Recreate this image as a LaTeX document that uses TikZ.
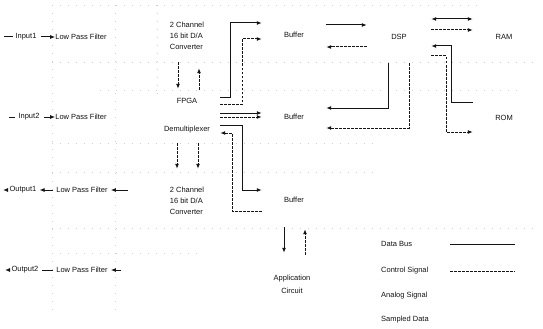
\documentclass[tikz,border=0pt]{standalone}
\usepackage{fontspec}
\setmainfont{Liberation Sans}
\usetikzlibrary{
    arrows.meta,
    calc
}
\definecolor{ScanInk}{RGB}{20,20,20}
\definecolor{ScanGhost}{RGB}{205,205,205}

\begin{document}
\begin{tikzpicture}[
    x=1pt, y=-1pt,
    >={Latex[length=5pt,width=4pt]},
    every node/.style={font=\fontsize{7.5}{9}\selectfont, text=ScanInk, inner sep=0pt},
    block/.style={minimum width=64pt, minimum height=24pt},
    chip/.style={minimum width=66pt, minimum height=16pt},
    conv/.style={align=left, font=\fontsize{7.5}{11}\selectfont, minimum height=52pt},
    bus/.style={ScanInk, line width=1pt},
    ctrl/.style={ScanInk, line width=1pt, dash pattern=on 2.5pt off 1.5pt},
    sig/.style={ScanInk, line width=1pt},
    ghost/.style={ScanGhost, line width=0.4pt, dash pattern=on 1pt off 7pt}
]

% Frame
\useasboundingbox (0,0) rectangle (543,329);
\fill[white] (0,0) rectangle (543,329);

% Faint layout lines
\foreach \y/\xa/\xb in {5/52/480, 62/52/540, 90/100/520, 143/52/380,
                        172/52/380, 228/52/540, 253/52/200}
    \draw[ghost] (\xa,\y) -- (\xb,\y);
\foreach \x/\ya/\yb in {52/5/310, 115/5/310, 157/5/95}
    \draw[ghost] (\x,\ya) -- (\x,\yb);

% Analog side
\node (in1)  at (26,37)  {Input1};
\node (lpf1) at (81,37)  {Low Pass Filter};
\node (in2)  at (29,117) {Input2};
\node (lpf2) at (81,117) {Low Pass Filter};
\node (out1) at (23,190) {Output1};
\node (lpf3) at (82,190) {Low Pass Filter};
\node (out2) at (25,270) {Output2};
\node (lpf4) at (82,270) {Low Pass Filter};

\coordinate (src1) at (4,37);
\coordinate (src2) at (9,117);
\coordinate (dst1) at (3,190);
\coordinate (dst2) at (5,270);
\coordinate (dac1) at (128,190);
\coordinate (dac2) at (121,270);
\path (in1.east) ++(4,0) coordinate (in1o);
\path (in2.east) ++(4,0) coordinate (in2o);
\path (out1.east) ++(3,0) coordinate (out1i);
\path (out2.east) ++(3,0) coordinate (out2i);

\draw[sig, shorten >=2pt] (src1) -- (in1.west);
\draw[sig, ->] (in1o) -- (lpf1.west);
\draw[sig, shorten >=3pt] (src2) -- (in2.west);
\draw[sig, ->] (in2o) -- (lpf2.west);
\draw[sig, ->, shorten <=2pt] (out1.west) -- (dst1);
\draw[sig, ->, shorten <=3pt] (lpf3.west) -- (out1i);
\draw[sig, ->, shorten >=3pt] (dac1) -- (lpf3.east);
\draw[sig, ->, shorten <=2pt] (out2.west) -- (dst2);
\draw[sig, shorten <=3pt] (lpf4.west) -- (out2i);
\draw[sig, ->, shorten >=3pt] (dac2) -- (lpf4.east);

% Converters and FPGA
\node[conv] (conv1) at (187,36)  {2 Channel\\16 bit D/A\\Converter};
\node[chip] (fpga)  at (187,101) {FPGA};
\node[chip] (demux) at (187,130) {Demultiplexer};
\node[conv] (conv2) at (187,201) {2 Channel\\16 bit D/A\\Converter};

\draw[ctrl, ->] ($(conv1.south)+(-9,0)$) -- ($(fpga.north)+(-9,-4)$);
\draw[ctrl, ->] ($(fpga.north)+(12,-3)$) -- ($(conv1.south)+(12,6)$);
\draw[ctrl, ->] ($(demux.south)+(-10,5)$) -- ($(conv2.north)+(-10,-6)$);
\draw[ctrl, ->] ($(demux.south)+(11,5)$) -- ($(conv2.north)+(11,-6)$);

% Buffers
\node[block] (buf1) at (294,35)  {Buffer};
\node[block] (buf2) at (294,117) {Buffer};
\node[block] (buf3) at (294,200) {Buffer};

\draw[bus, ->]  ($(fpga.east)+(0,-4)$) -- ++(10,0) |- ($(buf1.west)+(0,-12)$);
\draw[ctrl, ->] ($(fpga.east)+(0,3)$) -- ++(22,0) |- ($(buf1.west)+(0,4)$);
\draw[bus, ->]  ($(fpga.east)+(0,12)$) -- ($(buf2.west)+(0,-4)$);
\draw[ctrl, ->] ($(fpga.east)+(0,16)$) -- (buf2.west);
\draw[bus, ->]  ($(demux.east)+(0,-5)$) -- ++(22,0) |- ($(buf3.west)+(0,-10)$);
\draw[ctrl, ->] ($(buf3.west)+(0,11)$) -| ($(demux.east)+(12,3)$)
    -- ($(demux.east)+(0,3)$);

% DSP and memories
\node[minimum width=64pt, minimum height=52pt] (dsp) at (399,37) {DSP};
\node[minimum width=62pt, minimum height=30pt] (ram) at (504,37) {RAM};
\node[minimum width=62pt, minimum height=36pt] (rom) at (504,118) {ROM};

\draw[bus, ->]  ($(buf1.east)+(0,-10)$) -- ($(dsp.west)+(0,-12)$);
\draw[ctrl, ->] ($(dsp.west)+(0,10)$) -- ($(buf1.east)+(0,12)$);
\draw[bus, ->]  ($(dsp.south)+(-11,0)$) |- ($(buf2.east)+(0,-9)$);
\draw[ctrl, ->] ($(dsp.south)+(10,0)$) |- ($(buf2.east)+(0,11)$);

\draw[bus, <->] ($(dsp.east)+(0,-18)$) -- ($(ram.west)+(0,-18)$);
\draw[ctrl, ->] ($(dsp.east)+(0,-7)$) -- ($(ram.west)+(0,-7)$);
\draw[bus, ->]  ($(rom.west)+(0,-16)$) -| ($(dsp.east)+(20,9)$)
    -- ($(dsp.east)+(0,9)$);
\draw[ctrl, ->] ($(dsp.east)+(0,19)$) -- ++(15,0) |- ($(rom.west)+(0,14)$);

% Application circuit
\node[align=center, font=\fontsize{7.5}{13}\selectfont, minimum height=40pt]
    (app) at (292,284) {Application\\Circuit};

\draw[bus, ->]  ($(buf3.south)+(-10,15)$) -- ($(app.north)+(-8,-11)$);
\draw[ctrl, ->] ($(app.north)+(13,-9)$) -- ($(buf3.south)+(11,17)$);

% Legend
\node[anchor=west] (lgbus)  at (381,244) {Data Bus};
\node[anchor=west] (lgctrl) at (381,271) {Control Signal};
\node[anchor=west] (lgana)  at (381,296) {Analog Signal};
\node[anchor=west] (lgsmp)  at (381,320) {Sampled Data};

\coordinate (busa)  at (450,244);
\coordinate (busb)  at (515,244);
\coordinate (ctrla) at (450,271);
\coordinate (ctrlb) at (515,271);
\draw[bus] (busa) -- (busb);
\draw[ctrl] (ctrla) -- (ctrlb);

\end{tikzpicture}
\end{document}
